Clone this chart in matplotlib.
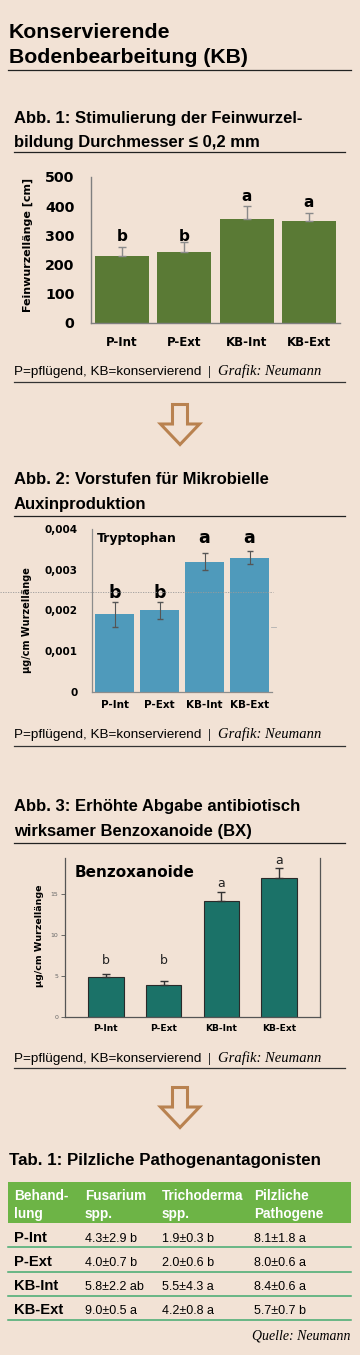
import matplotlib
matplotlib.use('Agg')
import matplotlib.pyplot as plt
from matplotlib import font_manager
from matplotlib.lines import Line2D
from matplotlib.patches import Polygon, Rectangle
from matplotlib.ticker import FuncFormatter

# --- Daten ---
kategorien = ['P-Int', 'P-Ext', 'KB-Int', 'KB-Ext']

feinwurzel = [229, 244, 355, 349]
feinwurzel_err = [32, 32, 46, 27]
feinwurzel_buchst = ['b', 'b', 'a', 'a']
feinwurzel_buchst_y = [296, 296, 432, 411]

tryptophan = [0.00191, 0.00201, 0.00320, 0.00330]
tryptophan_err = [0.00031, 0.00021, 0.00020, 0.00015]
tryptophan_buchst = ['b', 'b', 'a', 'a']
tryptophan_buchst_y = [0.00243, 0.00243, 0.00378, 0.00378]

benzox = [4.8, 3.83, 14.15, 16.88]
benzox_err = [0.4, 0.5, 1.1, 1.3]
benzox_buchst = ['b', 'b', 'a', 'a']
benzox_buchst_y = [6.9, 6.9, 16.3, 19.1]

tab_kopf_1 = ['Behand-', 'Fusarium', 'Trichoderma', 'Pilzliche']
tab_kopf_2 = ['lung', 'spp.', 'spp.', 'Pathogene']
fusarium = ['4.3±2.9 b', '4.0±0.7 b', '5.8±2.2 ab', '9.0±0.5 a']
trichoderma = ['1.9±0.3 b', '2.0±0.6 b', '5.5±4.3 a', '4.2±0.8 a']
pathogene = ['8.1±1.8 a', '8.0±0.6 a', '8.4±0.6 a', '5.7±0.7 b']

# --- Farben / Schriften ---
BG = '#F2E2D5'
GRUEN = '#5A7A35'
BLAU = '#4F9ABB'
TUERKIS = '#1B7268'
PFEIL = '#B98250'
KOPF = '#6DB446'
TRENN = '#44AA70'

namen = {f.name for f in font_manager.fontManager.ttflist}
if 'Liberation Sans Narrow' in namen:
    SCHMAL = ['Liberation Sans Narrow', 'DejaVu Sans']
else:
    SCHMAL = ['Liberation Sans', 'DejaVu Sans']
SERIF = ['Liberation Serif', 'DejaVu Serif']
DIAG = ['DejaVu Sans']

W, H = 360, 1355
fig = plt.figure(figsize=(W / 100, H / 100), dpi=100, facecolor=BG)


def text(x, y, s, **kw):
    kw.setdefault('va', 'baseline')
    fig.text(x / W, 1 - y / H, s, **kw)


def hline(x0, x1, y, **kw):
    fig.add_artist(Line2D([x0 / W, x1 / W], [1 - y / H, 1 - y / H], **kw))


def axes_px(l, t, r, b):
    ax = fig.add_axes([l / W, 1 - b / H, (r - l) / W, (b - t) / H])
    ax.set_facecolor('none')
    return ax


def pfeil(y0):
    pts = [(172.5, 0), (187.5, 0), (187.5, 19.5), (199.5, 19.5),
           (180, 40), (160.5, 19.5), (172.5, 19.5)]
    pts = [(x / W, 1 - (y0 + y) / H) for x, y in pts]
    fig.add_artist(Polygon(pts, closed=True, fill=False, edgecolor=PFEIL,
                           lw=2.2, joinstyle='miter'))


def titel2(y1, y2, z1, z2):
    text(14, y1, z1, family=SCHMAL, weight='bold', fontsize=12)
    text(14, y2, z2, family=SCHMAL, weight='bold', fontsize=12)


def quelle(y, linie):
    text(14, y, 'P=pflügend, KB=konservierend', family=SCHMAL, fontsize=9.7)
    text(208, y, '|', family=SCHMAL, fontsize=8.5, color='#333333')
    text(218, y, 'Grafik: Neumann', family=SERIF, style='italic', fontsize=10.5)
    hline(14, 345, linie, color='#333333', lw=0.9)


# --- Kopf ---
text(9, 37.7, 'Konservierende', family=SCHMAL, weight='bold', fontsize=15.3)
text(9, 62.7, 'Bodenbearbeitung (KB)', family=SCHMAL, weight='bold', fontsize=15.3)
hline(8, 351, 70, color='#222222', lw=0.9)

# --- Abb. 1 ---
titel2(122.7, 146.7, 'Abb. 1: Stimulierung der Feinwurzel-',
       'bildung Durchmesser ≤ 0,2 mm')
hline(14, 345, 152, color='#222222', lw=0.9)

x = range(len(kategorien))
ax1 = axes_px(91, 177, 340, 323)
ax1.bar(x, feinwurzel, width=0.87, color=GRUEN)
ax1.errorbar(x, feinwurzel, yerr=[[0] * 4, feinwurzel_err], fmt='none',
             ecolor='#8a8a8a', elinewidth=1, capsize=3)
for i, (b, yb) in enumerate(zip(feinwurzel_buchst, feinwurzel_buchst_y)):
    ax1.text(i, yb, b, ha='center', va='center', family=DIAG,
             weight='bold', fontsize=11)
ax1.set_xlim(-0.5, 3.5)
ax1.set_ylim(0, 500)
ax1.set_yticks(range(0, 501, 100))
ax1.set_xticks(list(x))
ax1.set_xticklabels(kategorien)
for s in ['top', 'right']:
    ax1.spines[s].set_visible(False)
for s in ['left', 'bottom']:
    ax1.spines[s].set_color('#7f7f7f')
    ax1.spines[s].set_linewidth(1)
ax1.tick_params(axis='y', length=0, pad=12, labelsize=10.3)
ax1.tick_params(axis='x', length=0, pad=9, labelsize=8.5)
for lab in ax1.get_xticklabels() + ax1.get_yticklabels():
    lab.set_family(DIAG)
    lab.set_weight('bold')
text(28, 245, 'Feinwurzellänge [cm]', va='center', ha='center', rotation=90,
     family=DIAG, weight='bold', fontsize=8)
quelle(375, 381.7)

pfeil(404.5)

# --- Abb. 2 ---
titel2(484, 509.3, 'Abb. 2: Vorstufen für Mikrobielle', 'Auxinproduktion')
hline(14, 345, 516, color='#222222', lw=0.9)

ax2 = axes_px(92, 529, 272, 692)
ax2.bar(x, tryptophan, width=0.867, color=BLAU)
ax2.errorbar(x, tryptophan, yerr=tryptophan_err, fmt='none',
             ecolor='#555555', elinewidth=0.8, capsize=2)
for i, (b, yb) in enumerate(zip(tryptophan_buchst, tryptophan_buchst_y)):
    ax2.text(i, yb, b, ha='center', va='center', family=DIAG,
             weight='bold', fontsize=12.5)
ax2.set_xlim(-0.5, 3.5)
ax2.set_ylim(0, 0.004)
ax2.set_yticks([0, 0.001, 0.002, 0.003, 0.004])
ax2.yaxis.set_major_formatter(FuncFormatter(
    lambda v, p: '0' if v == 0 else f'{v:.3f}'.replace('.', ',')))
ax2.set_xticks(list(x))
ax2.set_xticklabels(kategorien)
for s in ['top', 'right']:
    ax2.spines[s].set_visible(False)
for s in ['left', 'bottom']:
    ax2.spines[s].set_color('#8c8c8c')
    ax2.spines[s].set_linewidth(0.9)
ax2.tick_params(axis='y', length=0, pad=10.5, labelsize=7.5)
ax2.tick_params(axis='x', length=0, pad=5.5, labelsize=7.5)
for lab in ax2.get_xticklabels() + ax2.get_yticklabels():
    lab.set_family(DIAG)
    lab.set_weight('bold')
text(97, 541.7, 'Tryptophan', family=DIAG, weight='bold', fontsize=9)
text(27, 620, 'µg/cm Wurzellänge', va='center', ha='center', rotation=90,
     family=DIAG, weight='bold', fontsize=7)
# gepunktete Hilfslinie aus der Vorlage
hline(0, 273, 592, color='#9a9a9a', lw=0.6, ls=(0, (1.5, 1.5)))
hline(271, 276, 627, color='#b0b0b0', lw=0.6)
quelle(738.3, 746)

# --- Abb. 3 ---
titel2(810.7, 836, 'Abb. 3: Erhöhte Abgabe antibiotisch',
       'wirksamer Benzoxanoide (BX)')
hline(14, 345, 843, color='#222222', lw=0.9)

ax3 = axes_px(65, 858, 320, 1016.7)
ax3.bar(x, benzox, width=0.62, color=TUERKIS, edgecolor='#2a2a2a', linewidth=0.8)
ax3.errorbar(x, benzox, yerr=[[0] * 4, benzox_err], fmt='none',
             ecolor='#333333', elinewidth=1, capsize=3)
for i, (b, yb) in enumerate(zip(benzox_buchst, benzox_buchst_y)):
    ax3.text(i, yb, b, ha='center', va='center', family=DIAG, fontsize=9,
             color='#222222')
ax3.set_xlim(-0.7, 3.7)
ax3.set_ylim(0, 19.35)
ax3.set_yticks([0, 5, 10, 15])
ax3.set_xticks(list(x))
ax3.set_xticklabels(kategorien)
ax3.spines['top'].set_visible(False)
for s in ['left', 'right', 'bottom']:
    ax3.spines[s].set_color('#555555')
    ax3.spines[s].set_linewidth(0.9)
ax3.tick_params(axis='y', length=3, width=0.6, color='#555555', pad=2,
                labelsize=4.5, labelcolor='#666666')
ax3.tick_params(axis='x', length=0, pad=5, labelsize=6.6)
for lab in ax3.get_xticklabels():
    lab.set_family(DIAG)
    lab.set_weight('bold')
text(75, 877.3, 'Benzoxanoide', family=DIAG, weight='bold', fontsize=11)
text(39, 936, 'µg/cm Wurzellänge', va='center', ha='center', rotation=90,
     family=DIAG, weight='bold', fontsize=6.8)
quelle(1061.7, 1068)

pfeil(1087.5)

# --- Tabelle ---
text(9, 1165, 'Tab. 1: Pilzliche Pathogenantagonisten', family=SCHMAL,
     weight='bold', fontsize=12.2)
fig.add_artist(Rectangle((8 / W, 1 - 1223.3 / H), (351 - 8) / W,
                         (1223.3 - 1181.7) / H, color=KOPF, lw=0))
spalten_x = [14, 85, 162, 254]
for sx, k1, k2 in zip(spalten_x, tab_kopf_1, tab_kopf_2):
    text(sx, 1200, k1, family=SCHMAL, weight='bold', fontsize=9.8, color='white')
    text(sx, 1218.3, k2, family=SCHMAL, weight='bold', fontsize=9.8, color='white')

zeilen_y = [1241.7, 1266, 1290, 1314.3]
linien_y = [1247.3, 1271.7, 1296, 1320]
for i, kat in enumerate(kategorien):
    text(spalten_x[0], zeilen_y[i], kat, family=SCHMAL, weight='bold', fontsize=10.6)
    for sx, spalte in zip(spalten_x[1:], [fusarium, trichoderma, pathogene]):
        text(sx, zeilen_y[i], spalte[i], family=SCHMAL, fontsize=9)
    hline(8, 351, linien_y[i], color=TRENN, lw=1.1)

text(350, 1340, 'Quelle: Neumann', family=SERIF, style='italic', fontsize=10,
     ha='right')

fig.savefig('out.png', dpi=100, facecolor=BG)
